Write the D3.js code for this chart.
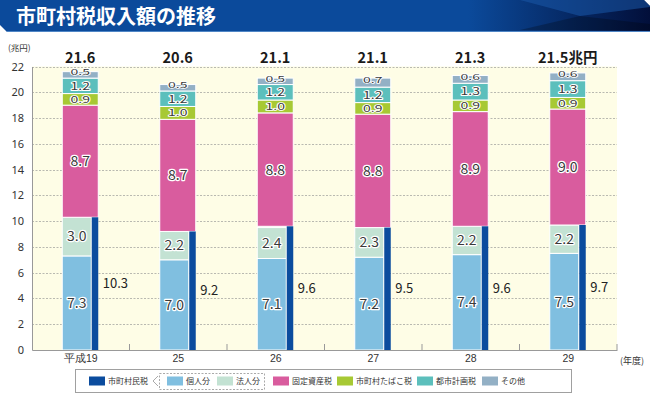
<!DOCTYPE html>
<html>
<head>
<meta charset="utf-8">
<script src="https://cdn.jsdelivr.net/npm/d3@7"></script>
<style>
    body { margin: 0; background: #fff; }
    svg { display: block; font-family: "Noto Sans CJK JP", "Noto Sans", sans-serif; }
</style>
</head>
<body>
<div id="chart"></div>
<script>
const years = ["平成19", "25", "26", "27", "28", "29"];
const kojin = [7.3, 7.0, 7.1, 7.2, 7.4, 7.5];
const hojin = [3.0, 2.2, 2.4, 2.3, 2.2, 2.2];
const shichosonMinzei = [10.3, 9.2, 9.6, 9.5, 9.6, 9.7];
const koteiShisan = [8.7, 8.7, 8.8, 8.8, 8.9, 9.0];
const tabako = [0.9, 1.0, 1.0, 0.9, 0.9, 0.9];
const toshiKeikaku = [1.2, 1.2, 1.2, 1.2, 1.3, 1.3];
const sonota = [0.5, 0.5, 0.5, 0.7, 0.6, 0.6];
const totals = [21.6, 20.6, 21.1, 21.1, 21.3, 21.5];
const yTicks = [0, 2, 4, 6, 8, 10, 12, 14, 16, 18, 20, 22];

const colours = {
    minzei: "#0b4c9e",
    kojin: "#80bfe0",
    hojin: "#c3e2d3",
    kotei: "#d95c9e",
    tabako: "#a7c934",
    toshi: "#5cbfbc",
    sonota: "#93b0c5"
};

// small segments get their labels squashed vertically, like the original
const labelSquash = { kojin: 1, hojin: 0.92, kotei: 1, tabako: 0.68, toshi: 0.76, sonota: 0.56 };

const width = 650, height = 394;
const plot = { left: 32, right: 617, top: 66.5, bottom: 350 };

const svg = d3.select("#chart").append("svg")
    .attr("width", width)
    .attr("height", height);

// header band
const defs = svg.append("defs");
const grad = defs.append("linearGradient").attr("id", "hdr").attr("x1", "0").attr("x2", "1");
grad.append("stop").attr("offset", "0.72").attr("stop-color", "#0b4a9b");
grad.append("stop").attr("offset", "1").attr("stop-color", "#020f3a");

svg.append("path")
    .attr("d", "M0,0 H644 L650,6 V32 H7 L0,25 Z")
    .attr("fill", "url(#hdr)");
svg.append("path")
    .attr("d", "M520,0 H644 L650,6 V7 L580,16 Z")
    .attr("fill", "#1a58a8")
    .attr("opacity", 0.55);
svg.append("path")
    .attr("d", "M520,30 H650 V24 L580,16 Z")
    .attr("fill", "#000")
    .attr("opacity", 0.25);
svg.append("line")
    .attr("x1", 7).attr("x2", 650)
    .attr("y1", 31.5).attr("y2", 31.5)
    .attr("stroke", "#4f86c6").attr("stroke-width", 1.2);

svg.append("text")
    .attr("x", 16)
    .attr("y", 24)
    .attr("fill", "#fff")
    .style("font-size", "20px")
    .style("font-weight", "bold")
    .text("市町村税収入額の推移");

// scales
const x = d3.scaleBand()
    .domain(years)
    .range([plot.left, plot.right])
    .padding(0);

const y = d3.scaleLinear()
    .domain([0, 22])
    .range([plot.bottom, plot.top]);

// plot background
svg.append("rect")
    .attr("x", plot.left)
    .attr("y", plot.top)
    .attr("width", plot.right - plot.left)
    .attr("height", plot.bottom - plot.top)
    .attr("fill", "#fefde6");

svg.append("g")
    .selectAll("line")
    .data(yTicks.filter(d => d > 0))
    .enter().append("line")
    .attr("x1", plot.left)
    .attr("x2", plot.right)
    .attr("y1", d => Math.round(y(d)) + 0.5)
    .attr("y2", d => Math.round(y(d)) + 0.5)
    .attr("stroke", "#b9b9b0")
    .attr("stroke-dasharray", "2,1.5");

// bars
const centre = i => x(years[i]) + x.bandwidth() / 2;
const stackLeft = i => centre(i) - 18.5;

const lower = years.map((yr, i) => ([
    { key: "kojin", y0: 0, y1: kojin[i], v: kojin[i], i },
    { key: "hojin", y0: kojin[i], y1: kojin[i] + hojin[i], v: hojin[i], i }
])).flat();

const upper = years.map((yr, i) => {
    const base = shichosonMinzei[i];
    const a = base + koteiShisan[i];
    const b = a + tabako[i];
    const c = b + toshiKeikaku[i];
    return [
        { key: "kotei", y0: base, y1: a, v: koteiShisan[i], i },
        { key: "tabako", y0: a, y1: b, v: tabako[i], i },
        { key: "toshi", y0: b, y1: c, v: toshiKeikaku[i], i },
        { key: "sonota", y0: c, y1: c + sonota[i], v: sonota[i], i, lift: 2.5 }
    ];
}).flat();

const bars = svg.append("g");

bars.selectAll(".lower")
    .data(lower)
    .enter().append("rect")
    .attr("class", "lower")
    .attr("x", d => stackLeft(d.i))
    .attr("y", d => y(d.y1))
    .attr("width", 29)
    .attr("height", d => y(d.y0) - y(d.y1))
    .attr("fill", d => colours[d.key])
    .attr("stroke", "#fff")
    .attr("stroke-width", 1);

bars.selectAll(".upper")
    .data(upper)
    .enter().append("rect")
    .attr("class", "upper")
    .attr("x", d => stackLeft(d.i))
    .attr("y", d => y(d.y1))
    .attr("width", 36)
    .attr("height", d => y(d.y0) - y(d.y1))
    .attr("fill", d => colours[d.key])
    .attr("stroke", "#fff")
    .attr("stroke-width", 1);

bars.selectAll(".minzei")
    .data(shichosonMinzei)
    .enter().append("rect")
    .attr("class", "minzei")
    .attr("x", (d, i) => centre(i) + 11)
    .attr("y", d => y(d))
    .attr("width", 6.5)
    .attr("height", d => plot.bottom - y(d))
    .attr("fill", colours.minzei);

// axes
const yAxis = svg.append("g")
    .attr("transform", `translate(${plot.left},0)`)
    .call(d3.axisLeft(y).tickValues(yTicks).tickSize(0).tickPadding(8));
yAxis.select(".domain").attr("stroke", "#999");
yAxis.selectAll("text")
    .attr("fill", "#333")
    .style("font-size", "11px")
    .style("font-family", "'Noto Sans', sans-serif");

const xAxis = svg.append("g")
    .attr("transform", `translate(0,${plot.bottom})`)
    .call(d3.axisBottom(x).tickSize(0).tickPadding(5));
xAxis.select(".domain").attr("stroke", "#999");
xAxis.selectAll("text")
    .attr("fill", "#333")
    .style("font-size", "10.5px");

svg.append("g")
    .selectAll("line")
    .data(years)
    .enter().append("line")
    .attr("x1", d => x(d) + x.bandwidth())
    .attr("x2", d => x(d) + x.bandwidth())
    .attr("y1", plot.bottom - 6)
    .attr("y2", plot.bottom)
    .attr("stroke", "#999");

svg.append("text")
    .attr("x", 8)
    .attr("y", 51)
    .attr("fill", "#333")
    .style("font-size", "8.5px")
    .text("(兆円)");

svg.append("text")
    .attr("x", 620)
    .attr("y", 364)
    .attr("fill", "#333")
    .style("font-size", "9px")
    .text("(年度)");

// segment labels
const labelled = lower.concat(upper);
svg.append("g")
    .selectAll("text")
    .data(labelled)
    .enter().append("text")
    .attr("transform", d => {
        const lx = d.key === "kojin" || d.key === "hojin" ? stackLeft(d.i) + 14.5 : stackLeft(d.i) + 18;
        const ly = (y(d.y0) + y(d.y1)) / 2 - (d.lift || 0);
        return `translate(${lx},${ly}) scale(1,${labelSquash[d.key]})`;
    })
    .attr("dy", "0.36em")
    .attr("text-anchor", "middle")
    .attr("fill", "#3a3a3a")
    .attr("stroke", "#fff")
    .attr("stroke-width", 2.5)
    .attr("stroke-linejoin", "round")
    .style("paint-order", "stroke")
    .style("font-size", "14px")
    .text(d => d.v.toFixed(1));

svg.append("g")
    .selectAll("text")
    .data(shichosonMinzei)
    .enter().append("text")
    .attr("x", (d, i) => centre(i) + 22)
    .attr("y", d => y(d / 2))
    .attr("dy", "0.36em")
    .attr("fill", "#222")
    .style("font-size", "13px")
    .text(d => d.toFixed(1));

svg.append("g")
    .selectAll("text")
    .data(totals)
    .enter().append("text")
    .attr("x", (d, i) => centre(i) - 0.5)
    .attr("y", 63)
    .attr("text-anchor", "middle")
    .attr("fill", "#1a1a1a")
    .style("font-size", "14.5px")
    .style("font-weight", "bold")
    .text((d, i) => d.toFixed(1) + (i === totals.length - 1 ? "兆円" : ""));

// legend
const legend = svg.append("g");
legend.append("rect")
    .attr("x", 75.5).attr("y", 369.5)
    .attr("width", 496).attr("height", 23)
    .attr("fill", "#fff")
    .attr("stroke", "#a0a0a0");

legend.append("rect")
    .attr("x", 159.5).attr("y", 373.5)
    .attr("width", 105).attr("height", 16)
    .attr("fill", "none")
    .attr("stroke", "#aaa")
    .attr("stroke-dasharray", "2,1.5");

legend.append("path")
    .attr("d", "M158,376 L153,381 L158,386")
    .attr("fill", "none")
    .attr("stroke", "#aaa");

const legendItems = [
    { key: "minzei", label: "市町村民税", x: 89 },
    { key: "kojin", label: "個人分", x: 167 },
    { key: "hojin", label: "法人分", x: 217 },
    { key: "kotei", label: "固定資産税", x: 273 },
    { key: "tabako", label: "市町村たばこ税", x: 337 },
    { key: "toshi", label: "都市計画税", x: 417 },
    { key: "sonota", label: "その他", x: 482 }
];

const li = legend.selectAll(".item")
    .data(legendItems)
    .enter().append("g")
    .attr("class", "item")
    .attr("transform", d => `translate(${d.x},0)`);

li.append("rect")
    .attr("y", 376.5)
    .attr("width", 16)
    .attr("height", 9)
    .attr("fill", d => colours[d.key]);

li.append("text")
    .attr("x", 19)
    .attr("y", 381)
    .attr("dy", "0.36em")
    .attr("fill", "#333")
    .style("font-size", "8px")
    .text(d => d.label);
</script>
</body>
</html>
